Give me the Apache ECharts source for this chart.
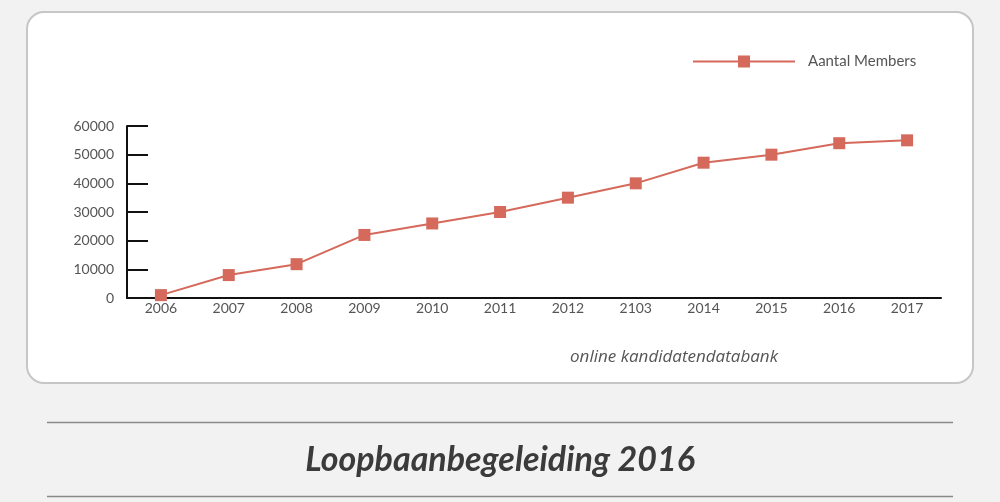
<!DOCTYPE html>
<html>
<head>
<meta charset="utf-8">
<script src="https://cdn.jsdelivr.net/npm/echarts@6/dist/echarts.min.js"></script>
<style>
html,body{margin:0;padding:0;background:#f2f2f2;}
#c{width:1000px;height:502px;}
</style>
</head>
<body>
<div id="c"></div>
<script>
var categories = ['2006','2007','2008','2009','2010','2011','2012','2103','2014','2015','2016','2017'];
var members = [1000, 8000, 11800, 22000, 26000, 30000, 35000, 40000, 47200, 50000, 54000, 55000];
var seriesName = 'Aantal Members';
var subtitle = 'online kandidatendatabank';
var pageTitle = 'Loopbaanbegeleiding 2016';

var chart = echarts.init(document.getElementById('c'));
var lineColor = '#d5695b';
chart.setOption({
  backgroundColor: '#f2f2f2',
  animation: false,
  graphic: [
    {type:'rect', z:-10, shape:{x:27,y:12,width:946,height:371,r:17}, style:{fill:'#ffffff', stroke:'#c6c6c6', lineWidth:2}},
    {type:'line', shape:{x1:47,y1:422.5,x2:953,y2:422.5}, style:{stroke:'#8a8a8a', lineWidth:1.5}},
    {type:'line', shape:{x1:47,y1:496.5,x2:953,y2:496.5}, style:{stroke:'#8a8a8a', lineWidth:1.5}},
    {type:'text', x:500, y:460, style:{text:pageTitle, font:'italic bold 34px Lato', fill:'#3b3b3b', textAlign:'center', textVerticalAlign:'middle'}},
    {type:'text', x:674, y:357, style:{text:subtitle, font:'italic 17px "Open Sans"', fill:'#555555', textAlign:'center', textVerticalAlign:'middle'}}
  ],
  legend: {
    data:[seriesName],
    top: 49,
    left: 687,
    itemWidth: 102,
    itemHeight: 15,
    textStyle:{color:'#555', fontSize:15, fontFamily:'Lato', padding:[0,0,0,8]}
  },
  grid: {left:127, right:59, top:126, bottom:204},
  xAxis: {
    type:'category',
    data: categories,
    axisLine:{lineStyle:{color:'#111', width:2}},
    axisTick:{inside:true, length:4, lineStyle:{color:'#111', width:2}},
    axisLabel:{color:'#555', fontSize:14, fontFamily:'Lato', margin:3}
  },
  yAxis: {
    type:'value', min:0, max:60000, interval:10000,
    axisLine:{show:true, lineStyle:{color:'#111', width:2}},
    axisTick:{show:true, inside:true, length:21, lineStyle:{color:'#111', width:2}},
    axisLabel:{color:'#555', fontSize:14, fontFamily:'Lato', margin:13, formatter:function(v){return String(v);}},
    splitLine:{show:false}
  },
  series: [{
    name: seriesName,
    type:'line',
    data: members,
    symbol:'rect',
    symbolSize:12,
    itemStyle:{color:lineColor},
    lineStyle:{color:lineColor, width:2}
  }]
});
</script>
</body>
</html>
